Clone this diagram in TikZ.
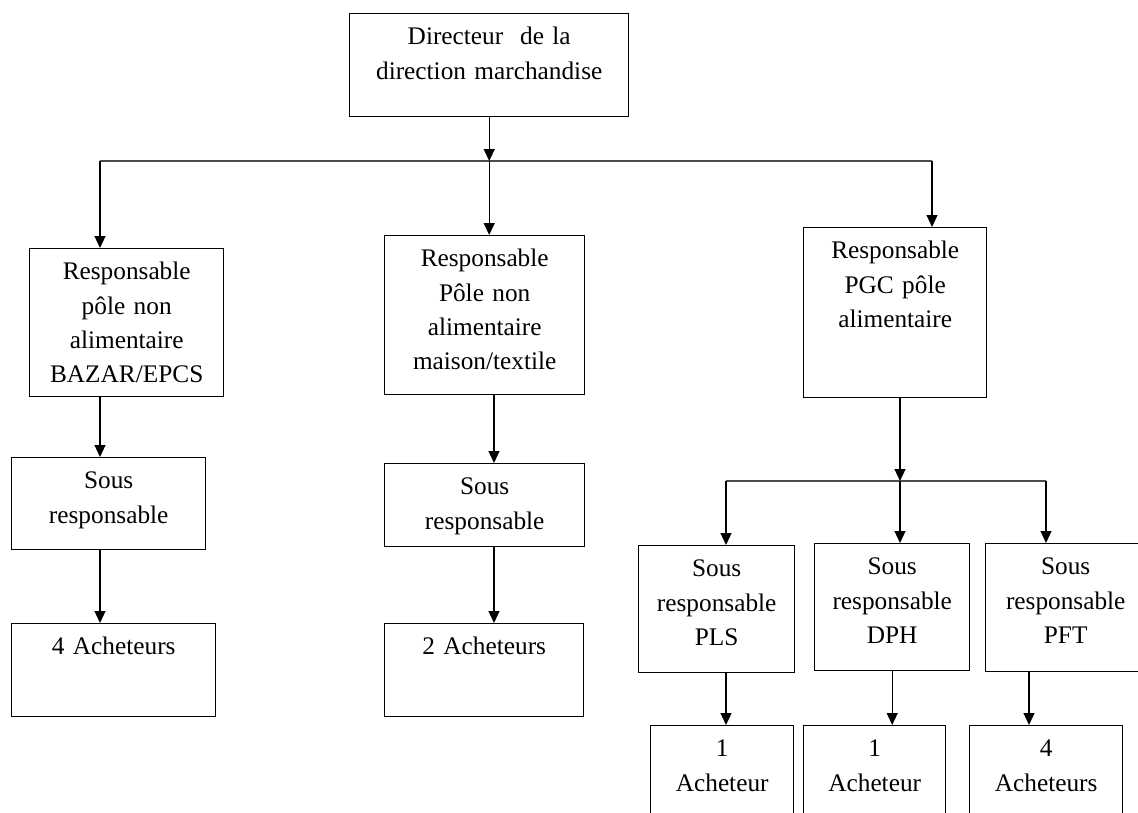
\documentclass[tikz,border=0pt]{standalone}
\usepackage{fontspec}
\setmainfont{Liberation Serif}
\usetikzlibrary{arrows.meta}

\tikzset{
	cell/.style 2 args={draw, line width=0.8pt, inner sep=0pt, anchor=north west, align=center,
		text width=#1*0.02cm, text height=17.6pt, text depth=#2*0.02cm-17.6pt,
		font=\fontsize{14.4}{19.6}\selectfont},
	arr/.style={line width=0.8pt, -{Triangle[length=6.8pt,width=6.2pt]}},
	bus/.style={line width=1pt, black!70}
}

\begin{document}
\begin{tikzpicture}[x=0.02cm,y=-0.02cm]
				\useasboundingbox (0,0) rectangle (1138,813);
				\clip (0,0) rectangle (1138,813);
				\node [cell={279}{103}] (dir) at (349,13) {Directeur\ \ de la\\direction marchandise};
				\node [cell={194}{148}] (bazar) at (29,248) {Responsable\\pôle non\\alimentaire\\BAZAR/EPCS};
				\node [cell={200}{159}] (maison) at (384,235) {Responsable\\Pôle non\\alimentaire\\maison/textile};
				\node [cell={183}{170}] (pgc) at (803,227) {Responsable\\PGC pôle\\alimentaire};
				\node [cell={194}{92}] (sousA) at (11,457) {Sous\\responsable};
				\node [cell={204}{93}] (achA) at (11,623) {4 Acheteurs};
				\node [cell={200}{83}] (sousB) at (384,463) {Sous\\responsable};
				\node [cell={199}{93}] (achB) at (384,623) {2 Acheteurs};
				\node [cell={156}{127}] (pls) at (638,545) {Sous\\responsable\\PLS};
				\node [cell={155}{127}] (dph) at (814,543) {Sous\\responsable\\DPH};
				\node [cell={160}{128}] (pft) at (985,543) {Sous\\responsable\\PFT};
				\node [cell={143}{110}] (achPLS) at (650,725) {1\\Acheteur};
				\node [cell={142}{110}] (achDPH) at (803,725) {1\\Acheteur};
				\node [cell={153}{110}] (achPFT) at (969,725) {4\\Acheteurs};

				\coordinate (busL) at (100,161);
				\coordinate (busR) at (932,161);
				\coordinate (colB) at (494,0);
				\coordinate (bus2L) at (726,481);
				\coordinate (bus2M) at (900,481);
				\coordinate (bus2R) at (1046,481);
				\coordinate (colP) at (1029,0);

				\draw [bus] (busL) -- (busR);
				\draw [bus] (bus2L) -- (bus2R);
				\draw [arr] (dir.south) -- (dir.south |- busL);
				\draw [arr] (busL) -- (busL |- bazar.north);
				\draw [arr] (dir.south |- busL) -- (dir.south |- maison.north);
				\draw [arr] (busR) -- (busR |- pgc.north);
				\draw [arr] (busL |- bazar.south) -- (busL |- sousA.north);
				\draw [arr] (busL |- sousA.south) -- (busL |- achA.north);
				\draw [arr] (colB |- maison.south) -- (colB |- sousB.north);
				\draw [arr] (colB |- sousB.south) -- (colB |- achB.north);
				\draw [arr] (bus2M |- pgc.south) -- (bus2M);
				\draw [arr] (bus2L) -- (bus2L |- pls.north);
				\draw [arr] (bus2M) -- (bus2M |- dph.north);
				\draw [arr] (bus2R) -- (bus2R |- pft.north);
				\draw [arr] (bus2L |- pls.south) -- (bus2L |- achPLS.north);
				\draw [arr] (dph.south) -- (dph.south |- achDPH.north);
				\draw [arr] (colP |- pft.south) -- (colP |- achPFT.north);
\end{tikzpicture}
\end{document}
